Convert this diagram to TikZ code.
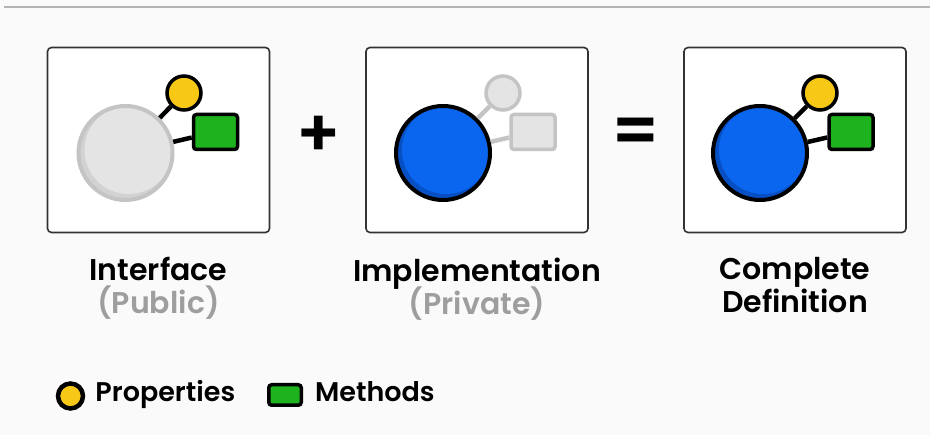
\documentclass[tikz,border=0pt]{standalone}
\usepackage{fontspec}
\setmainfont{Poppins}[BoldFont={Poppins SemiBold}]
\usetikzlibrary{positioning,calc}

\definecolor{bg}{HTML}{FAFAFA}
\definecolor{rule}{HTML}{B4B4B4}
\definecolor{propyellow}{HTML}{F7C815}
\definecolor{methgreen}{HTML}{1FB21F}
\definecolor{objblue}{HTML}{0A66EE}
\definecolor{objbluedark}{HTML}{0650C4}
\definecolor{ghost}{HTML}{E4E4E4}
\definecolor{ghostdark}{HTML}{D2D2D2}
\definecolor{ghostline}{HTML}{C4C4C4}
\definecolor{subgray}{HTML}{9E9E9E}

\newcommand{\titlefont}{\bfseries\fontsize{30}{33}\selectfont\lineskiplimit-20pt\relax}

\tikzset{
  panel/.style={draw=black!80, line width=1.6pt, rounded corners=4pt, fill=white,
    minimum width=222pt, minimum height=185pt},
  obj/.style={circle, line width=4pt, minimum size=94pt, inner sep=0pt},
  bluebody/.style={obj, draw=black, fill=objbluedark,
    path picture={\fill[objblue] ($(path picture bounding box.center)+(3pt,3pt)$) circle (44pt);}},
  greybody/.style={obj, draw=ghostline, fill=ghostdark,
    path picture={\fill[ghost] ($(path picture bounding box.center)+(3pt,3pt)$) circle (44pt);}},
  prop/.style={circle, draw=black, fill=propyellow, line width=3.5pt, minimum size=34pt, inner sep=0pt},
  meth/.style={draw=black, fill=methgreen, line width=3.5pt, rounded corners=3pt,
    minimum width=44pt, minimum height=35pt, inner sep=0pt},
  ghostprop/.style={prop, draw=ghostline, fill=ghost},
  ghostmeth/.style={meth, draw=ghostline, fill=ghost},
  link/.style={line width=4.5pt, draw=black},
  ghostlink/.style={link, draw=ghostline},
  title/.style={font=\titlefont, align=center, inner sep=0pt},
  sign/.style={font=\bfseries\fontsize{66}{66}\selectfont, inner sep=0pt},
  legend/.style={font=\bfseries\fontsize{27}{30}\selectfont, anchor=base west, inner sep=0pt},
}

\begin{document}
\begin{tikzpicture}[x=1pt, y=-1pt]
  \fill[bg] (0,0) rectangle (930,435);
  \useasboundingbox (0,0) rectangle (930,435);
  \draw[rule, line width=2pt] (4,7) -- (930,7);

  % three panels
  \node (p1) [panel] at (158.5,140) {};
  \node (p2) [panel] at (477,140) {};
  \node (p3) [panel] at (795,140) {};

  % interface
  \node (body1) [greybody] at ($(p1)+(-33,13)$) {};
  \node (prop1) [prop] at ($(p1)+(25.5,-47)$) {};
  \node (meth1) [meth] at ($(p1)+(57,-8)$) {};
  \path (body1) edge [link] (prop1)
        (body1) edge [link] (meth1);

  % implementation
  \node (body2) [bluebody] at ($(p2)+(-34,13)$) {};
  \node (prop2) [ghostprop] at ($(p2)+(26,-47)$) {};
  \node (meth2) [ghostmeth] at ($(p2)+(56,-8)$) {};
  \path (body2) edge [ghostlink] (prop2)
        (body2) edge [ghostlink] (meth2);

  % complete definition
  \node (body3) [bluebody] at ($(p3)+(-35,13)$) {};
  \node (prop3) [prop] at ($(p3)+(25,-47)$) {};
  \node (meth3) [meth] at ($(p3)+(56,-8)$) {};
  \path (body3) edge [link] (prop3)
        (body3) edge [link] (meth3);

  % operators
  \node (plus) [sign] at (319,136) {+};
  \node (equals) [sign] at (636,136) {=};

  % captions
  \node (t1) [title, below=24pt of p1] {Interface\\{\color{subgray}(Public)}};
  \node (t2) [title, below=24pt of p2] {Implementation\\{\color{subgray}(Private)}};
  \node (t3) [title, below=24pt of p3] {Complete\\Definition};

  % legend
  \node (lgprop) [prop, minimum size=25pt, line width=4.5pt] at (70.5,396) {};
  \node (lgproptext) [legend] at ($(lgprop.east)+(10,6)$) {Properties};
  \node (lgmeth) [meth, minimum width=32.5pt, minimum height=20.5pt] at (285,395) {};
  \node (lgmethtext) [legend] at ($(lgmeth.east)+(12,7)$) {Methods};
\end{tikzpicture}
\end{document}
